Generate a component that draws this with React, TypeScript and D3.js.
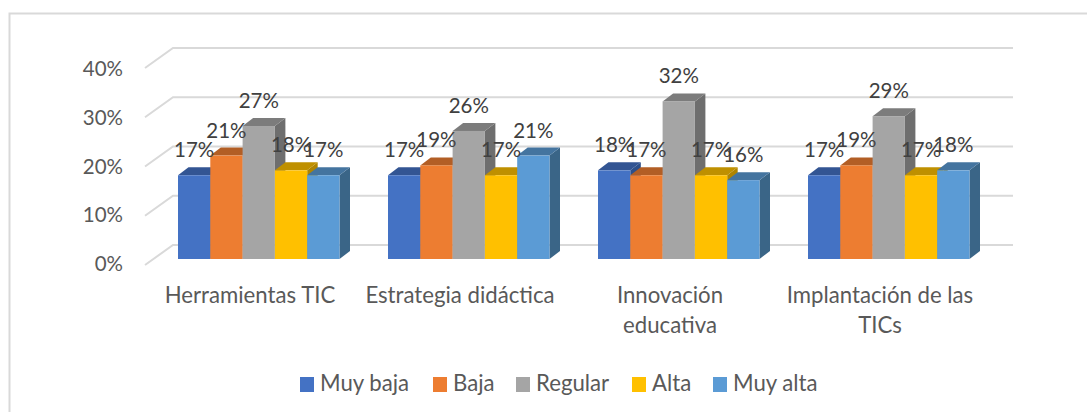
import React from "react";
import * as d3 from "d3";

const categories = ["Herramientas TIC", "Estrategia didáctica", "Innovación educativa", "Implantación de las TICs"];
const categoryLines = [["Herramientas TIC"], ["Estrategia didáctica"], ["Innovación", "educativa"], ["Implantación de las", "TICs"]];
const seriesNames = ["Muy baja", "Baja", "Regular", "Alta", "Muy alta"];
const muyBaja = [17, 17, 18, 17];
const baja = [21, 19, 17, 19];
const regular = [27, 26, 32, 29];
const alta = [18, 17, 17, 17];
const muyAlta = [17, 21, 16, 18];
const seriesValues = [muyBaja, baja, regular, alta, muyAlta];
const ticks = [0, 10, 20, 30, 40];
const front = ["#4472C4", "#ED7D31", "#A5A5A5", "#FFC000", "#5B9BD5"];
const topCol = ["#335593", "#B25E25", "#7C7C7C", "#BF9000", "#44749F"];
const sideCol = ["#2D4F8A", "#A5561F", "#6E6E6E", "#AF8400", "#3A6587"];
const legendX = [300, 433, 516, 632, 713];

const FONT = "Lato, 'Open Sans', sans-serif";
const dx = 10.5, dy = -8;

export default function App() {
  const y = d3.scaleLinear().domain([0, 40]).range([259, 62]);
  const tickY = d3.scaleLinear().domain([0, 40]).range([271, 76]);
  const x0 = d3.scaleBand<number>().domain(d3.range(4)).range([178, 1018]);
  const innerW = 161.5;
  const x1 = d3.scaleBand<number>().domain(d3.range(5)).range([0, innerW]);
  const frontLine = (t: number) => y(t) + 6;
  const backLine = (t: number) => y(t) - 14;
  return (
    <svg width={1087} height={412} style={{ position: "absolute", left: 0, top: 0, background: "#fff" }}>
      <path d="M9.5 412V13.5H1087" fill="none" stroke="#D9D9D9" strokeWidth={2} />
      {ticks.map(t => (
        <g key={t}>
          <polyline
            points={`145,${frontLine(t)} 173,${backLine(t)} 1013,${backLine(t)}`}
            fill="none" stroke="#D9D9D9" strokeWidth={2} />
          <text x={123} y={tickY(t)} textAnchor="end" fontFamily={FONT} fontSize={20.5} fill="#595959">{t}%</text>
        </g>
      ))}
      {categories.map((c, g) => {
        const gx = x0(g)!;
        return (
          <g key={c}>
            {seriesValues.map((vals, s) => {
              const v = vals[g];
              const bx = gx + x1(s)!;
              const w = x1.bandwidth();
              const ty = y(v);
              return (
                <g key={s}>
                  <path d={`M${bx + w} ${ty}l${dx} ${dy}V${y(0) + dy}L${bx + w} ${y(0)}Z`} fill={sideCol[s]} />
                  <path d={`M${bx} ${ty}l${dx} ${dy}h${w}l${-dx} ${-dy}Z`} fill={topCol[s]} />
                  <rect x={bx} y={ty} width={w} height={y(0) - ty} fill={front[s]} />
                </g>
              );
            })}
            {seriesValues.map((vals, s) => (
              <text key={s} x={gx + x1(s)! + x1.bandwidth() / 2} y={y(vals[g]) - 18}
                textAnchor="middle" fontFamily={FONT} fontSize={20.5} fill="#404040">{vals[g]}%</text>
            ))}
            {categoryLines[g].map((l, k) => (
              <text key={l} x={gx + 72} y={303 + k * 30}
                textAnchor="middle" fontFamily={FONT} fontSize={22.2} fill="#595959">{l}</text>
            ))}
          </g>
        );
      })}
      {seriesNames.map((n, i) => (
        <g key={n}>
          <rect x={legendX[i]} y={377} width={14} height={15} fill={front[i]} />
          <text x={legendX[i] + 20} y={391} fontFamily={FONT} fontSize={22.2} fill="#595959">{n}</text>
        </g>
      ))}
    </svg>
  );
}
